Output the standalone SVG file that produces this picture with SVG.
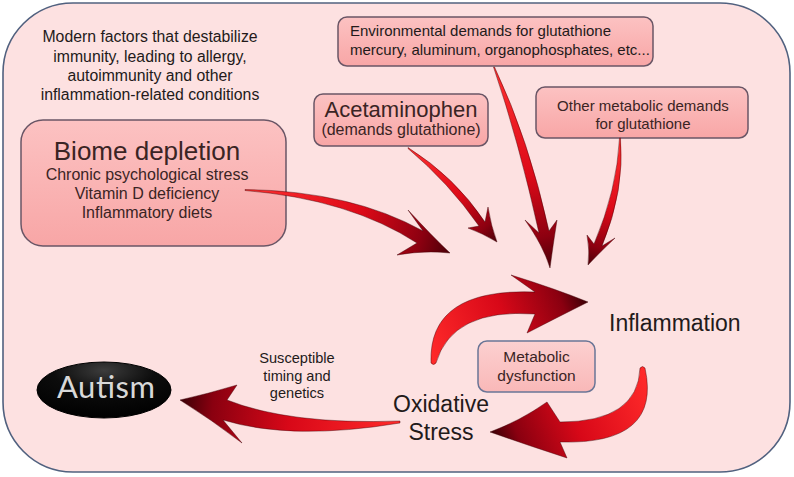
<svg xmlns="http://www.w3.org/2000/svg" width="794" height="477" viewBox="0 0 794 477">
<style>
text{font-family:"Liberation Sans",Arial,sans-serif;fill:#231a1a}
.box{fill:url(#boxg);stroke:#6a5666;stroke-width:1.5}
.bt{fill:#3a2424;text-anchor:middle}
.arr{stroke:#3a0006;stroke-width:0.6;stroke-opacity:0.7}
</style>
<defs>
<linearGradient id="boxg" x1="0" y1="0" x2="0" y2="1">
<stop offset="0" stop-color="#fcc2c2"/><stop offset="1" stop-color="#f8a6a6"/>
</linearGradient>
<linearGradient id="metag" x1="0" y1="0" x2="0" y2="1">
<stop offset="0" stop-color="#fcd0d0"/><stop offset="1" stop-color="#f9b8b8"/>
</linearGradient>
<radialGradient id="autg" cx="0.5" cy="0.15" r="0.85">
<stop offset="0" stop-color="#3c3c3c"/><stop offset="0.45" stop-color="#0c0c0c"/><stop offset="1" stop-color="#000"/>
</radialGradient>
<linearGradient id="a1" gradientUnits="userSpaceOnUse" x1="245" y1="190" x2="450" y2="253"><stop offset="0" stop-color="#ff3030"/><stop offset="0.55" stop-color="#dc0a18"/><stop offset="0.85" stop-color="#8c0010"/><stop offset="1" stop-color="#4a0008"/></linearGradient>
<linearGradient id="a2" gradientUnits="userSpaceOnUse" x1="408" y1="148" x2="497" y2="242"><stop offset="0" stop-color="#ff3030"/><stop offset="0.55" stop-color="#dc0a18"/><stop offset="0.85" stop-color="#8c0010"/><stop offset="1" stop-color="#4a0008"/></linearGradient>
<linearGradient id="a3" gradientUnits="userSpaceOnUse" x1="494" y1="67" x2="550" y2="268"><stop offset="0" stop-color="#ff3030"/><stop offset="0.55" stop-color="#dc0a18"/><stop offset="0.85" stop-color="#8c0010"/><stop offset="1" stop-color="#4a0008"/></linearGradient>
<linearGradient id="a4" gradientUnits="userSpaceOnUse" x1="620" y1="138" x2="588" y2="265"><stop offset="0" stop-color="#ff3030"/><stop offset="0.55" stop-color="#dc0a18"/><stop offset="0.85" stop-color="#8c0010"/><stop offset="1" stop-color="#4a0008"/></linearGradient>
<linearGradient id="a5" gradientUnits="userSpaceOnUse" x1="433" y1="363" x2="588" y2="302"><stop offset="0" stop-color="#ff2a2a"/><stop offset="0.5" stop-color="#d80818"/><stop offset="0.85" stop-color="#8a0010"/><stop offset="1" stop-color="#3a0006"/></linearGradient>
<linearGradient id="a6" gradientUnits="userSpaceOnUse" x1="642" y1="368" x2="490" y2="432"><stop offset="0" stop-color="#ff2a2a"/><stop offset="0.5" stop-color="#d80818"/><stop offset="0.85" stop-color="#8a0010"/><stop offset="1" stop-color="#3a0006"/></linearGradient>
<linearGradient id="a7" gradientUnits="userSpaceOnUse" x1="400" y1="422" x2="180" y2="400"><stop offset="0" stop-color="#ff2a2a"/><stop offset="0.5" stop-color="#d80818"/><stop offset="0.85" stop-color="#8a0010"/><stop offset="1" stop-color="#3a0006"/></linearGradient>
</defs>

<rect id="frame" x="3" y="3" width="787" height="469" rx="70" ry="70" fill="#fde1e1" stroke="#51617f" stroke-width="1.6"/>

<g id="title">
<text x="150" y="42" font-size="15.8" text-anchor="middle">Modern factors that destabilize</text>
<text x="150" y="61.5" font-size="15.8" text-anchor="middle">immunity, leading to allergy,</text>
<text x="150" y="81" font-size="15.8" text-anchor="middle">autoimmunity and other</text>
<text x="150" y="100" font-size="15.8" text-anchor="middle">inflammation-related conditions</text>
</g>

<g id="biome">
<rect class="box" x="21" y="120" width="265" height="126" rx="22"/>
<text class="bt" x="147" y="160" font-size="26">Biome depletion</text>
<text class="bt" x="147" y="179.5" font-size="16">Chronic psychological stress</text>
<text class="bt" x="147" y="198.5" font-size="16">Vitamin D deficiency</text>
<text class="bt" x="147" y="217.5" font-size="16">Inflammatory diets</text>
</g>

<g id="environmental">
<rect class="box" x="338" y="17" width="315" height="49" rx="9"/>
<text x="350" y="36" font-size="15" fill="#3a2424">Environmental demands for glutathione</text>
<text x="350" y="54.5" font-size="15" fill="#3a2424">mercury, aluminum, organophosphates, etc...</text>
</g>

<g id="acetaminophen">
<rect class="box" x="314" y="94" width="174" height="52" rx="9"/>
<text class="bt" x="401" y="116.5" font-size="22">Acetaminophen</text>
<text class="bt" x="401" y="134.5" font-size="16">(demands glutathione)</text>
</g>

<g id="other">
<rect class="box" x="536" y="87" width="212" height="51" rx="9"/>
<text class="bt" x="643" y="110.5" font-size="15">Other metabolic demands</text>
<text class="bt" x="643" y="128.5" font-size="15">for glutathione</text>
</g>

<g id="metabolic">
<rect x="478" y="341" width="117" height="51" rx="9" fill="url(#metag)" stroke="#6a7596" stroke-width="1.5"/>
<text class="bt" x="536.5" y="362" font-size="15.5">Metabolic</text>
<text class="bt" x="536.5" y="380.5" font-size="15.5">dysfunction</text>
</g>

<g id="inflammation">
<text x="609" y="331" font-size="23" fill="#111">Inflammation</text>
</g>

<g id="oxidative">
<text x="441" y="412" font-size="23" text-anchor="middle" fill="#111">Oxidative</text>
<text x="441" y="439.5" font-size="23" text-anchor="middle" fill="#111">Stress</text>
</g>

<g id="autism">
<ellipse cx="104" cy="390" rx="67" ry="28" fill="url(#autg)" stroke="#000" stroke-width="1"/>
<text x="57" y="398" font-size="31" textLength="98" lengthAdjust="spacing" style="font-family:Lato,'Open Sans',sans-serif;fill:#d8d8d8">Autism</text>
</g>

<g id="connectors">
<path class="arr" fill="url(#a1)" d="M245,189.5 Q351,191 423,231 L408,210 Q432,236 450,253 Q425,250 397,255 L417,243 Q349,199 245,190.5 Z"/>
<path class="arr" fill="url(#a2)" d="M408,147.5 Q455,177 485,222 L488,207 Q491,226 497,242 Q482,233 468,228 L479,226 Q449,183 408,148.5 Z"/>
<path class="arr" fill="url(#a3)" d="M494.5,67 Q529,140 549,231 L557,220 Q553,245 550,268 Q543,245 525,220 L539,233 Q519,142 493.5,67 Z"/>
<path class="arr" fill="url(#a4)" d="M620.5,138 Q625,190 602,246 L615,238 Q600,252 588,265 Q590,250 587,235 L594,244 Q617,190 619.5,138 Z"/>
<path class="arr" fill="url(#a5)" d="M431,363 Q428,288 535,292 L511,275 Q556,289 588,302 Q560,316 527,333 L535,314 Q452,308 436,363 Q433.5,366 431,363 Z"/>
<path class="arr" fill="url(#a6)" d="M640,368 Q638,422 560,422 L547,402 Q520,421 490,432 Q530,446 567,458 L560,442 Q662,445 645,368 Q642.5,365 640,368 Z"/>
<path class="arr" fill="url(#a7)" d="M400,421 Q290,425 227,400 L237,385 Q207,394 180,400 Q212,420 242,443 L223,420 Q292,441 400,423 Z"/>
<g id="label-susceptible">
<text x="297" y="363" font-size="14.6" text-anchor="middle">Susceptible</text>
<text x="297" y="380.5" font-size="14.6" text-anchor="middle">timing and</text>
<text x="297" y="398" font-size="14.6" text-anchor="middle">genetics</text>
</g>
</g>
</svg>
